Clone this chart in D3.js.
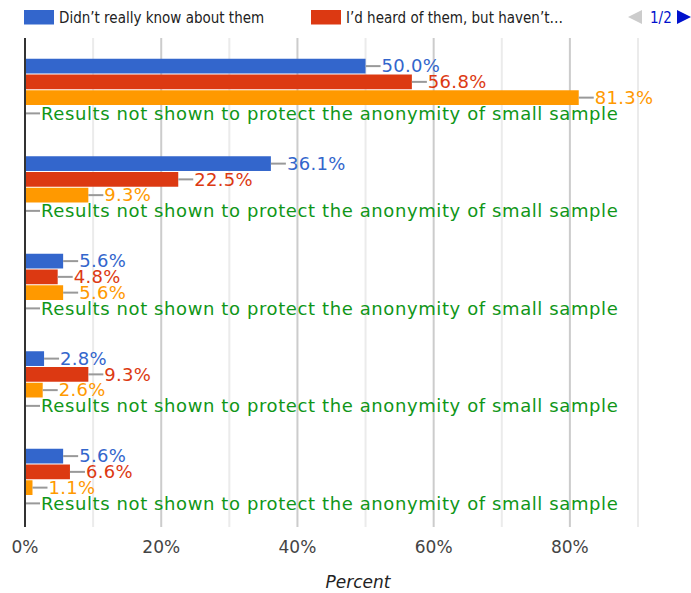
<!DOCTYPE html>
<html>
<head>
<meta charset="utf-8">
<script src="https://cdn.jsdelivr.net/npm/d3@7"></script>
<style>
  body { margin: 0; background: #fff; }
  svg { display: block; font-family: "DejaVu Sans", sans-serif; }
</style>
</head>
<body>
<svg id="chart" width="691" height="593"></svg>
<script>
// groups (no category labels are shown on the chart)
const categories = ['Group 1', 'Group 2', 'Group 3', 'Group 4', 'Group 5'];
const seriesNames = [
    'Didn\u2019t really know about them',
    'I\u2019d heard of them, but haven\u2019t\u2026',
    'Series 3',
    'Series 4'
];
const seriesColors = ['#3366cc', '#dc3912', '#ff9900', '#109618'];

// percent values per series, one per group
const didntKnow = [50.0, 36.1, 5.6, 2.8, 5.6];
const heardNotTried = [56.8, 22.5, 4.8, 9.3, 6.6];
const thirdSeries = [81.3, 9.3, 5.6, 2.6, 1.1];
const hiddenSeries = [0, 0, 0, 0, 0]; // suppressed results
const hiddenNote = 'Results not shown to protect the anonymity of small sample';

const xTicks = [0, 20, 40, 60, 80];
const gridValues = [10, 20, 30, 40, 50, 60, 70, 80, 90];

const seriesValues = [didntKnow, heardNotTried, thirdSeries, hiddenSeries];

const svg = d3.select('#chart');

const plot = { left: 25, right: 638, top: 38, bottom: 527 };

const x = d3.scaleLinear().domain([0, 90]).range([plot.left, plot.right]);
const yGroup = d3.scaleBand().domain(categories).range([41, 528.5]);
const ySeries = d3.scaleBand().domain(d3.range(seriesNames.length)).range([0, 62]).paddingInner(0.065);

// gridlines
svg.append('g')
    .selectAll('line')
    .data(gridValues)
    .enter()
    .append('line')
    .attr('x1', d => x(d))
    .attr('x2', d => x(d))
    .attr('y1', plot.top)
    .attr('y2', plot.bottom)
    .attr('stroke', d => d % 20 === 0 ? '#cccccc' : '#ebebeb')
    .attr('stroke-width', 2);

// flatten data into one row per bar
const rows = [];
categories.forEach((c, gi) => {
    seriesValues.forEach((vals, si) => {
        rows.push({ group: c, series: si, value: vals[gi] });
    });
});

const offset = (yGroup.bandwidth() - 62) / 2;
const barY = d => yGroup(d.group) + offset + ySeries(d.series);
const barH = ySeries.bandwidth();

// bars
svg.append('g')
    .selectAll('rect')
    .data(rows.filter(d => d.value > 0))
    .enter()
    .append('rect')
    .attr('x', x(0))
    .attr('y', barY)
    .attr('width', d => x(d.value) - x(0))
    .attr('height', barH)
    .attr('fill', d => seriesColors[d.series]);

// leader lines + labels
const labels = svg.append('g');
labels.selectAll('line')
    .data(rows)
    .enter()
    .append('line')
    .attr('x1', d => x(d.value))
    .attr('x2', d => x(d.value) + 15)
    .attr('y1', d => barY(d) + barH / 2)
    .attr('y2', d => barY(d) + barH / 2)
    .attr('stroke', '#999999')
    .attr('stroke-width', 2);

labels.selectAll('text')
    .data(rows)
    .enter()
    .append('text')
    .attr('x', d => x(d.value) + 16)
    .attr('y', d => barY(d) + barH / 2)
    .attr('dy', '0.35em')
    .attr('font-size', 18)
    .attr('letter-spacing', d => d.series === 3 ? 0.6 : 0.3)
    .attr('fill', d => seriesColors[d.series])
    .text(d => d.series === 3 ? hiddenNote : d.value.toFixed(1) + '%');

// baseline
svg.append('line')
    .attr('x1', x(0))
    .attr('x2', x(0))
    .attr('y1', plot.top)
    .attr('y2', plot.bottom)
    .attr('stroke', '#333333')
    .attr('stroke-width', 2);

// x axis tick labels
svg.append('g')
    .selectAll('text')
    .data(xTicks)
    .enter()
    .append('text')
    .attr('x', d => x(d))
    .attr('y', 553)
    .attr('text-anchor', 'middle')
    .attr('font-size', 17)
    .attr('fill', '#444444')
    .text(d => d + '%');

svg.append('text')
    .attr('x', (plot.left + 691) / 2)
    .attr('y', 588)
    .attr('text-anchor', 'middle')
    .attr('font-size', 17)
    .attr('font-style', 'italic')
    .attr('fill', '#222222')
    .text('Percent');

// legend (page 1 of 2)
const legendX = [24, 311];
const legend = svg.append('g')
    .selectAll('g')
    .data(seriesNames.slice(0, 2))
    .enter()
    .append('g')
    .attr('transform', (d, i) => `translate(${legendX[i]},0)`);

legend.append('rect')
    .attr('x', 0)
    .attr('y', 10)
    .attr('width', 30)
    .attr('height', 14.5)
    .attr('fill', (d, i) => seriesColors[i]);

legend.append('text')
    .attr('x', 35)
    .attr('y', 23)
    .attr('font-family', '"DejaVu Sans Condensed", "DejaVu Sans", sans-serif')
    .attr('font-stretch', 'condensed')
    .attr('font-size', 15)
    .attr('fill', '#222222')
    .text(d => d);

// pager
svg.append('path')
    .attr('d', 'M642,10 L642,24 L628,17 Z')
    .attr('fill', '#cccccc');
svg.append('text')
    .attr('x', 650)
    .attr('y', 23)
    .attr('font-family', '"DejaVu Sans Condensed", "DejaVu Sans", sans-serif')
    .attr('font-stretch', 'condensed')
    .attr('font-size', 15)
    .attr('fill', '#0011cc')
    .text('1/2');
svg.append('path')
    .attr('d', 'M677,10 L677,24 L691,17 Z')
    .attr('fill', '#0011cc');
</script>
</body>
</html>
